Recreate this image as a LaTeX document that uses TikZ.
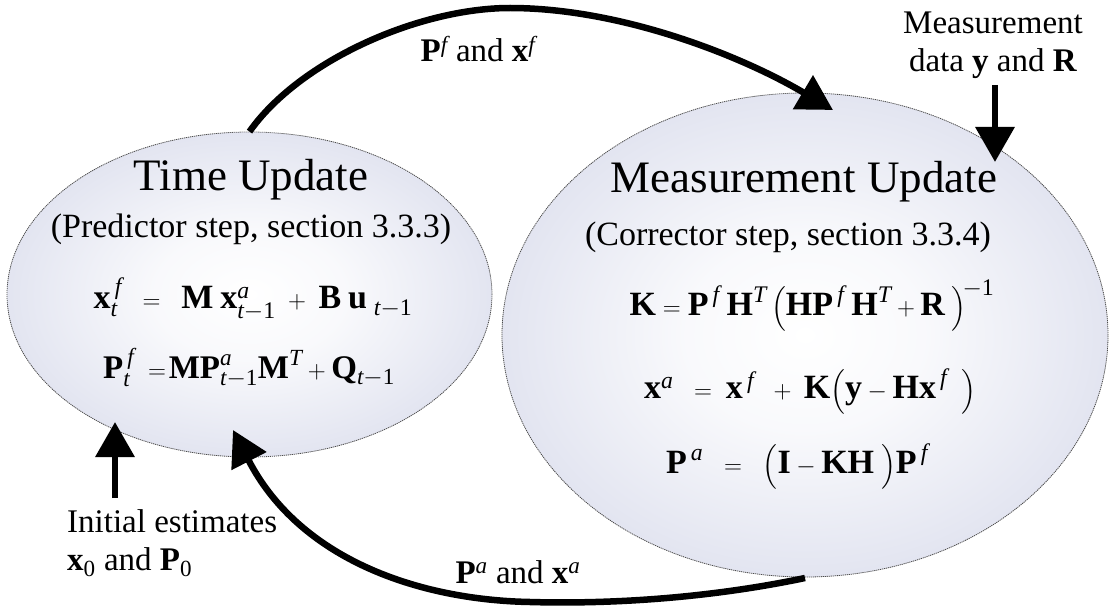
\documentclass[tikz,border=0pt]{standalone}
\usepackage{amsmath}
\usepackage{fontspec}
\setmainfont{Liberation Serif}
\usetikzlibrary{arrows.meta,shapes.geometric}
\definecolor{ellc}{RGB}{190,195,222}
\pgfdeclareradialshading{ellshade}{\pgfpointorigin}{color(0bp)=(white); color(10bp)=(white!90!ellc); color(30bp)=(white!45!ellc); color(50bp)=(ellc); color(100bp)=(ellc)}
\newcommand{\Bf}[1]{\textbf{#1}}
\newcommand{\Iv}[1]{\textit{#1}}
\tikzset{
  ell/.style={ellipse, draw=black!70, line width=0.8pt, dash pattern=on 1.2pt off 0.8pt, shading=ellshade, inner sep=0pt},
  flow/.style={line width=6.5pt, -{Triangle[length=35pt,width=38pt]}},
  ttl/.style={font=\fontsize{45}{50}\selectfont, anchor=base, inner sep=0pt},
  subt/.style={font=\fontsize{34}{38}\selectfont, anchor=base, inner sep=0pt},
  eqn/.style={font=\fontsize{34}{38}\selectfont, anchor=base, inner sep=0pt},
  lab/.style={font=\fontsize{33}{38}\selectfont, inner sep=0pt}
}
\begin{document}
\begin{tikzpicture}[x=1pt,y=-1pt]
\useasboundingbox (0,0) rectangle (1112,607);
\fill[white] (0,0) rectangle (1112,607);

% ellipses
\node[ell, minimum width=485pt, minimum height=325pt] (TU) at (249.5,294.5) {};
\node[ell, minimum width=606pt, minimum height=484pt] (MU) at (805,335) {};

% Time update texts
\node[ttl] (tut) at (251,190) {Time Update};
\node[subt] (tus) at (251,237) {(Predictor step, section 3.3.3)};
\node[eqn] (tue1) at (253,308) {$\Bf{x}_{\Iv{t}}^{\,\Iv{f}} \;\;=\;\; \Bf{M}\;\Bf{x}^{\Iv{a}}_{\Iv{t}-\text{1}} \;+\; \Bf{B}\;\Bf{u}_{\;\Iv{t}-\text{1}}$};
\node[eqn, font=\fontsize{33}{38}\selectfont] (tue2) at (249,378) {$\Bf{P}_{\Iv{t}}^{\,\Iv{f}} \;=\! \Bf{MP}^{\Iv{a}}_{\Iv{t}-\text{1}}\Bf{M}^{\Iv{T}} + \Bf{Q}_{\Iv{t}-\text{1}}$};

% Measurement update texts
\node[ttl] (mut) at (804,193) {Measurement Update};
\node[subt] (mus) at (788,245) {(Corrector step, section 3.3.4)};
\node[eqn] (keq) at (812,315) {$\Bf{K} = \Bf{P}^{\,\Iv{f}}\;\Bf{H}^{\Iv{T}}\,\Bigl(\Bf{HP}^{\,\Iv{f}}\;\Bf{H}^{\Iv{T}} + \Bf{R}\;\Bigr)^{\!-\text{1}}$};
\node[eqn] (xeq) at (810,398) {$\Bf{x}^{\Iv{a}}\;\;=\;\Bf{x}^{\,\Iv{f}}\;\;+\;\Bf{K}\Bigl(\Bf{y} - \Bf{Hx}^{\,\Iv{f}}\;\;\Bigr)$};
\node[eqn] (peq) at (797,473) {$\Bf{P}^{\,\Iv{a}}\;\;=\;\;\Bigl(\Bf{I} - \Bf{KH}\;\Bigr)\Bf{P}^{\,\Iv{f}}$};

% labels
\node[lab, anchor=base] (pflab) at (478,62) {\Bf{P}$^{\Iv{f}}$ and \Bf{x}$^{\Iv{f}}$};
\node[lab, align=center, anchor=north] (meas) at (993,12) {Measurement\\data \Bf{y} and \Bf{R}};
\node[lab, align=left, anchor=north west] (init) at (67,509) {Initial estimates\\\Bf{x}$_{\text{0}}$ and \Bf{P}$_{\text{0}}$};
\node[lab, anchor=base] (palab) at (518,583) {\Bf{P}$^{\Iv{a}}$ and \Bf{x}$^{\Iv{a}}$};

% connector points
\coordinate (toppeak) at (510,8);
\coordinate (mutip) at (833,110);
\coordinate (m0) at (995,85);
\coordinate (m1) at (995,162);
\coordinate (i0) at (115,498);
\coordinate (i1) at (115,422);
\coordinate (b0) at (805,578);
\coordinate (bmid) at (530,602);
\coordinate (b1) at (233,430);

% connectors
\draw[flow] (TU.north) .. controls (300,60) and (420,8) .. (toppeak) .. controls (620,8) and (740,55) .. (mutip);
\draw[flow] (m0) -- (m1);
\draw[flow] (i0) -- (i1);
\draw[flow] (b0) .. controls (700,600) and (600,604) .. (bmid) .. controls (420,600) and (300,560) .. (b1);
\end{tikzpicture}
\end{document}
